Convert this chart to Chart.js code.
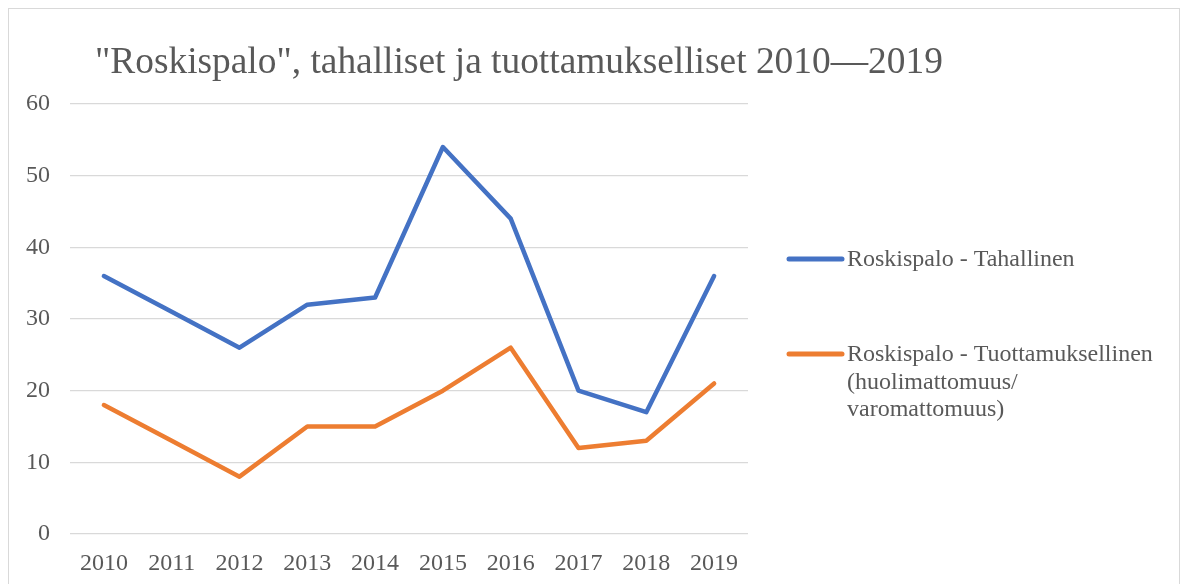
<!DOCTYPE html>
<html>
<head>
<meta charset="utf-8">
<script src="https://cdn.jsdelivr.net/npm/chart.js@4"></script>
<style>
  html, body { margin: 0; padding: 0; background: #ffffff; overflow: hidden; }
  #frame { position: absolute; left: 8px; top: 8px; width: 1172px; height: 600px; border: 1px solid #d9d9d9; box-sizing: border-box; }
  #wrap { position: absolute; left: 0; top: 0; width: 1186px; height: 584px; }
</style>
</head>
<body>
<div id="frame"></div>
<div id="wrap"><canvas id="c" width="1186" height="584"></canvas></div>
<script>
const titleText = '"Roskispalo", tahalliset ja tuottamukselliset 2010\u20142019';
const years = ['2010','2011','2012','2013','2014','2015','2016','2017','2018','2019'];
const tahallinen = [36, 31, 26, 32, 33, 54, 44, 20, 17, 36];
const tuottamuksellinen = [18, 13, 8, 15, 15, 20, 26, 12, 13, 21];
const seriesNames = [
  ['Roskispalo - Tahallinen'],
  ['Roskispalo - Tuottamuksellinen', '(huolimattomuus/', 'varomattomuus)']
];
const yTicks = [0, 10, 20, 30, 40, 50, 60];

const FONT = '"Liberation Serif", "Times New Roman", serif';
const TEXT = '#595959';
const BLUE = '#4472C4';
const ORANGE = '#ED7D31';

const overlay = {
  id: 'overlay',
  afterDraw(chart) {
    const ctx = chart.ctx;
    ctx.save();
    // title
    ctx.fillStyle = TEXT;
    ctx.font = '37.4px ' + FONT;
    ctx.textBaseline = 'middle';
    ctx.textAlign = 'left';
    ctx.fillText(titleText, 95, 63);
    // legend
    const colors = [BLUE, ORANGE];
    const ys = [259, 354];
    ctx.font = '24px ' + FONT;
    ctx.textBaseline = 'middle';
    seriesNames.forEach((lines, i) => {
      ctx.strokeStyle = colors[i];
      ctx.lineWidth = 5;
      ctx.lineCap = 'round';
      ctx.beginPath();
      ctx.moveTo(789, ys[i]);
      ctx.lineTo(842, ys[i]);
      ctx.stroke();
      ctx.fillStyle = TEXT;
      lines.forEach((t, j) => ctx.fillText(t, 847, ys[i] + 1 + j * 27.5));
    });
    ctx.restore();
  }
};

new Chart(document.getElementById('c'), {
  type: 'line',
  data: {
    labels: years,
    datasets: [
      { label: seriesNames[0].join(' '), data: tahallinen, borderColor: BLUE, backgroundColor: BLUE, borderWidth: 4.5, pointRadius: 0, tension: 0, borderCapStyle: 'round', borderJoinStyle: 'round' },
      { label: seriesNames[1].join(' '), data: tuottamuksellinen, borderColor: ORANGE, backgroundColor: ORANGE, borderWidth: 4.5, pointRadius: 0, tension: 0, borderCapStyle: 'round', borderJoinStyle: 'round' }
    ]
  },
  options: {
    responsive: false,
    animation: false,
    layout: { padding: { top: 104, left: 0, right: 438, bottom: 0 } },
    plugins: { legend: { display: false }, title: { display: false }, tooltip: { enabled: false } },
    scales: {
      x: {
        offset: true,
        grid: { display: false, drawTicks: false },
        border: { display: false },
        ticks: { color: TEXT, font: { family: FONT, size: 24 }, padding: 15, maxRotation: 0, autoSkip: false },
        afterFit(s) { s.height = 50; }
      },
      y: {
        min: 0, max: 60,
        afterBuildTicks(s) { s.ticks = yTicks.map(v => ({ value: v })); },
        grid: { color: '#d9d9d9', lineWidth: 1.3, drawTicks: false },
        border: { display: false },
        ticks: { color: TEXT, font: { family: FONT, size: 24 }, padding: 20 },
        afterFit(s) { s.width = 70; }
      }
    }
  },
  plugins: [overlay]
});
</script>
</body>
</html>
